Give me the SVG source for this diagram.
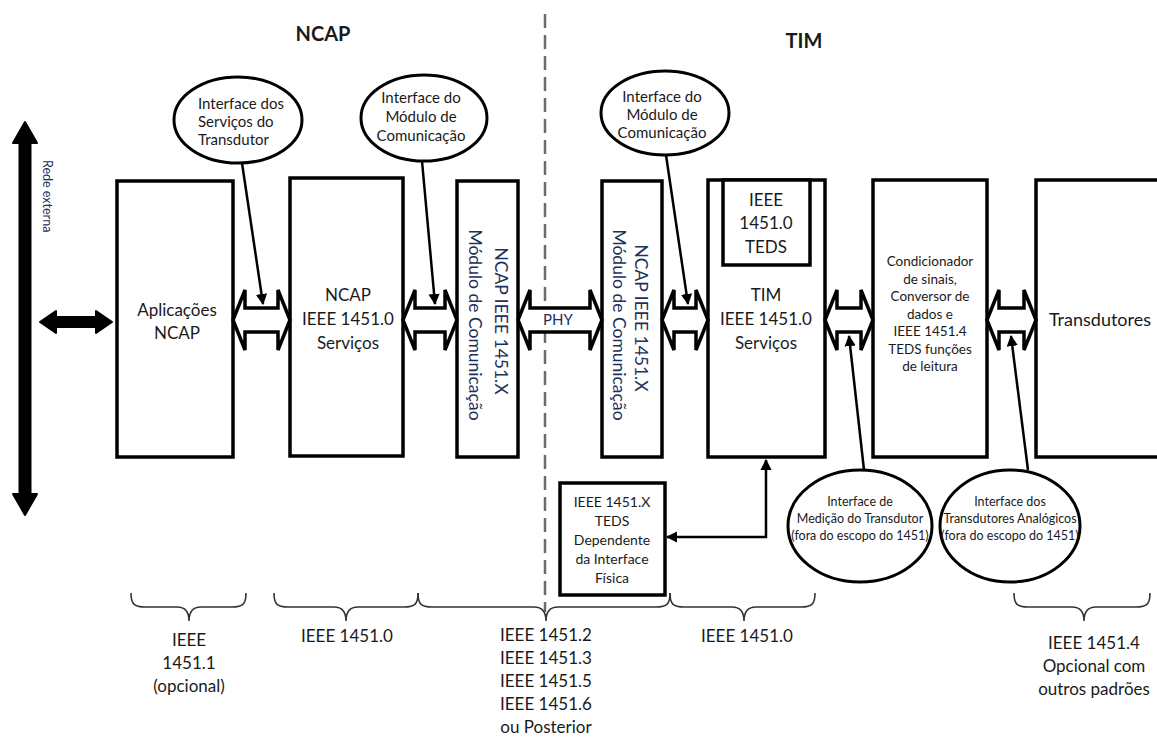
<svg xmlns="http://www.w3.org/2000/svg" width="1157" height="745" viewBox="0 0 1157 745">
<defs>
<marker id="ah" viewBox="0 0 10 10" refX="9" refY="5" markerWidth="4.5" markerHeight="4.5" orient="auto-start-reverse"><path d="M0,0 L10,5 L0,10 z" fill="#000"/></marker>
</defs>
<style>
.box{fill:#fff;stroke:#000;stroke-width:3.5}
.ell{fill:#fff;stroke:#000;stroke-width:3}
.barr{fill:#fff;stroke:#000;stroke-width:3.5;stroke-linejoin:miter}
.lead{stroke:#000;stroke-width:2.5;fill:none}
.brace{fill:none;stroke:#333;stroke-width:1.6}
text{font-family:Lato,"Open Sans","Liberation Sans",sans-serif;fill:#1a1a1a;text-anchor:middle}
.t17{font-size:17px}
.t18{font-size:18px}
.t15{font-size:15px}
.t14{font-size:14px}
.t13{font-size:13.5px}
.t12{font-size:12.5px}
.title{font-size:20px;font-weight:bold}
.rot{font-size:17.5px;fill:#1e2f5a}
.blue{fill:#1e2f5a}
</style>
<rect width="1157" height="745" fill="#fff"/>

<text class="title" x="323" y="41">NCAP</text>
<text class="title" x="804" y="48">TIM</text>
<line x1="545" y1="14" x2="545" y2="612" stroke="#6b6b6b" stroke-width="2.5" stroke-dasharray="14 7"/>

<g id="rede">
<path d="M25,122 L37,143 L30.5,143 L30.5,494 L37,494 L25,515 L13,494 L19.5,494 L19.5,143 L13,143 Z" fill="#000" stroke="#000" stroke-width="2" stroke-linejoin="round"/>
<path d="M40,322 L56,311 L56,317 L96,317 L96,311 L112,322 L96,333 L96,327 L56,327 L56,333 Z" fill="#000" stroke="#000" stroke-width="2" stroke-linejoin="round"/>
<text class="t12 blue" transform="translate(43,160) rotate(90)" style="text-anchor:start">Rede externa</text>
</g>

<g id="aplicacoes">
<rect class="box" x="117" y="181" width="116" height="276"/>
<text class="t17" x="177" y="316">Aplicações</text>
<text class="t17" x="177" y="339">NCAP</text>
</g>
<g id="ncap-servicos">
<rect class="box" x="290" y="178" width="113" height="278"/>
<text class="t17" x="348" y="301">NCAP</text>
<text class="t17" x="348" y="325">IEEE 1451.0</text>
<text class="t17" x="348" y="349">Serviços</text>
</g>
<g id="ncap-modulo">
<rect class="box" x="457" y="181" width="61" height="276"/>
<text class="rot" transform="translate(495,321) rotate(90)">NCAP IEEE 1451.X</text>
<text class="rot" transform="translate(469,325) rotate(90)">Módulo de Comunicação</text>
</g>
<g id="tim-modulo">
<rect class="box" x="602" y="181" width="60" height="276"/>
<text class="rot" transform="translate(635,318) rotate(90)">NCAP IEEE 1451.X</text>
<text class="rot" transform="translate(613,325) rotate(90)">Módulo de Comunicação</text>
</g>
<g id="tim-servicos">
<rect class="box" x="708" y="180" width="117" height="277"/>
<rect class="box" x="723" y="180" width="87" height="85"/>
<text class="t17" x="766" y="206">IEEE</text>
<text class="t17" x="766" y="229">1451.0</text>
<text class="t17" x="766" y="253">TEDS</text>
<text class="t17" x="766" y="301">TIM</text>
<text class="t17" x="766" y="325">IEEE 1451.0</text>
<text class="t17" x="766" y="349">Serviços</text>
</g>
<g id="condicionador">
<rect class="box" x="873" y="180" width="114" height="277"/>
<text class="t13" x="930" y="266">Condicionador</text>
<text class="t13" x="930" y="283.5">de sinais,</text>
<text class="t13" x="930" y="301">Conversor de</text>
<text class="t13" x="930" y="318.5">dados e</text>
<text class="t13" x="930" y="336">IEEE 1451.4</text>
<text class="t13" x="930" y="353.5">TEDS funções</text>
<text class="t13" x="930" y="371">de leitura</text>
</g>
<g id="transdutores">
<rect class="box" x="1036" y="180" width="130" height="277"/>
<text class="t18" x="1100" y="326">Transdutores</text>
</g>
<g id="teds-fisica">
<rect class="box" x="560" y="483" width="105" height="112"/>
<text class="t14" x="612" y="507">IEEE 1451.X</text>
<text class="t14" x="612" y="526">TEDS</text>
<text class="t14" x="612" y="545">Dependente</text>
<text class="t14" x="612" y="564">da Interface</text>
<text class="t14" x="612" y="583">Física</text>
</g>

<g id="ellipse-servicos">
<ellipse class="ell" cx="238" cy="120" rx="64" ry="43"/>
<text class="t15" x="198" y="109" style="text-anchor:start">Interface dos</text>
<text class="t15" x="198" y="127" style="text-anchor:start">Serviços do</text>
<text class="t15" x="198" y="145" style="text-anchor:start">Transdutor</text>
</g>
<g id="ellipse-modulo-ncap">
<ellipse class="ell" cx="424" cy="118" rx="63" ry="43"/>
<text class="t15" x="421" y="103">Interface do</text>
<text class="t15" x="421" y="122">Módulo de</text>
<text class="t15" x="421" y="141">Comunicação</text>
</g>
<g id="ellipse-modulo-tim">
<ellipse class="ell" cx="665" cy="113" rx="64" ry="42"/>
<text class="t15" x="662" y="102">Interface do</text>
<text class="t15" x="662" y="120">Módulo de</text>
<text class="t15" x="662" y="138">Comunicação</text>
</g>
<g id="ellipse-medicao">
<ellipse class="ell" cx="860" cy="526" rx="72" ry="56"/>
<text class="t12" x="860" y="506">Interface de</text>
<text class="t12" x="860" y="523">Medição do Transdutor</text>
<text class="t12" x="860" y="540">(fora do escopo do 1451)</text>
</g>
<g id="ellipse-analogicos">
<ellipse class="ell" cx="1010" cy="526" rx="70" ry="56"/>
<text class="t12" x="1010" y="506">Interface dos</text>
<text class="t12" x="1010" y="523">Transdutores Analógicos</text>
<text class="t12" x="1010" y="540">(fora do escopo do 1451)</text>
</g>

<g id="connectors">
<polygon class="barr" points="233,320 245,290 245,308 278,308 278,290 290,320 278,350 278,332 245,332 245,350"/>
<polygon class="barr" points="403,320 415,290 415,308 445,308 445,290 457,320 445,350 445,332 415,332 415,350"/>
<polygon class="barr" points="518,320 530,290 530,308 590,308 590,290 602,320 590,350 590,332 530,332 530,350"/>
<polygon class="barr" points="662,320 674,290 674,308 696,308 696,290 708,320 696,350 696,332 674,332 674,350"/>
<polygon class="barr" points="825,320 837,290 837,308 861,308 861,290 873,320 861,350 861,332 837,332 837,350"/>
<polygon class="barr" points="987,320 999,290 999,308 1024,308 1024,290 1036,320 1024,350 1024,332 999,332 999,350"/>
<text x="558" y="325" class="blue" style="font-size:15px">PHY</text>
<line class="lead" x1="242" y1="163" x2="263" y2="304" marker-end="url(#ah)"/>
<line class="lead" x1="422" y1="161" x2="435" y2="304" marker-end="url(#ah)"/>
<line class="lead" x1="666" y1="155" x2="688" y2="304" marker-end="url(#ah)"/>
<line class="lead" x1="864" y1="470" x2="849" y2="336" marker-end="url(#ah)"/>
<line class="lead" x1="1028" y1="470" x2="1011" y2="336" marker-end="url(#ah)"/>
<path class="lead" d="M667,537 L766,537 L766,460" marker-start="url(#ah)" marker-end="url(#ah)"/>
</g>

<g id="braces">
<path class="brace" d="M131,593 C131,604 134,607 145,607 L177,607 C185,607 189,611 189,621 C189,611 193,607 201,607 L232,607 C243,607 246,604 246,593"/>
<path class="brace" d="M274,593 C274,604 277,607 288,607 L334,607 C342,607 346,611 346,621 C346,611 350,607 358,607 L404,607 C415,607 418,604 418,593"/>
<path class="brace" d="M418,593 C418,604 421,607 432,607 L534,607 C542,607 546,611 546,621 C546,611 550,607 558,607 L656,607 C667,607 670,604 670,593"/>
<path class="brace" d="M670,593 C670,604 673,607 684,607 L732,607 C740,607 744,611 744,621 C744,611 748,607 756,607 L801,607 C812,607 815,604 815,593"/>
<path class="brace" d="M1014,593 C1014,604 1017,607 1028,607 L1072,607 C1080,607 1084,611 1084,621 C1084,611 1088,607 1096,607 L1136,607 C1147,607 1150,604 1150,593"/>
</g>
<g id="labels">
<text class="t17" x="189" y="646">IEEE</text>
<text class="t17" x="189" y="669">1451.1</text>
<text class="t17" x="189" y="692">(opcional)</text>
<text class="t17" x="347" y="642">IEEE 1451.0</text>
<text class="t17" x="546" y="641">IEEE 1451.2</text>
<text class="t17" x="546" y="664">IEEE 1451.3</text>
<text class="t17" x="546" y="687">IEEE 1451.5</text>
<text class="t17" x="546" y="710">IEEE 1451.6</text>
<text class="t17" x="546" y="733">ou Posterior</text>
<text class="t17" x="747" y="642">IEEE 1451.0</text>
<text class="t17" x="1094" y="649">IEEE 1451.4</text>
<text class="t17" x="1094" y="672">Opcional com</text>
<text class="t17" x="1094" y="695">outros padrões</text>
</g>
</svg>
